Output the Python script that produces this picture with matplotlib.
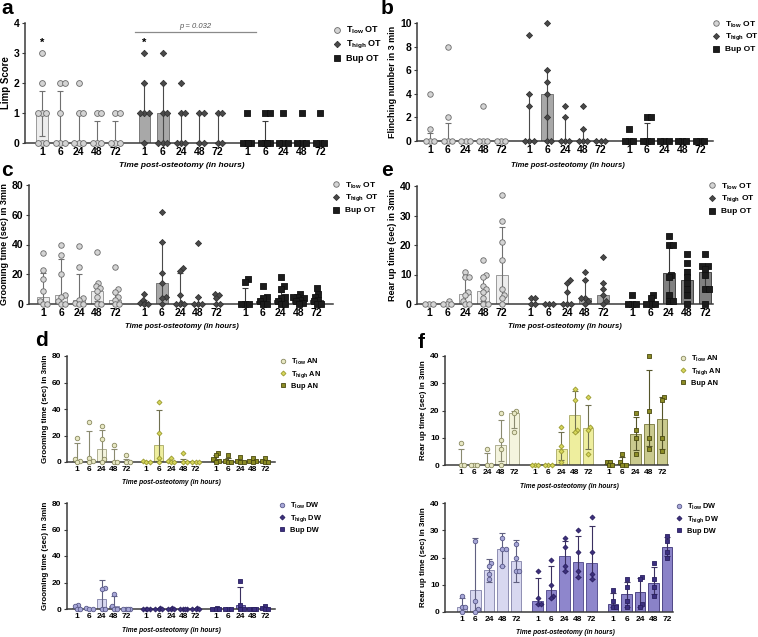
import numpy as np
import matplotlib.pyplot as plt
from matplotlib.lines import Line2D

plt.rcParams['font.family'] = ['Liberation Sans', 'DejaVu Sans']
plt.rcParams['font.weight'] = 'bold'
plt.rcParams['mathtext.fontset'] = 'custom'
plt.rcParams['mathtext.rm'] = 'Liberation Sans:bold'
plt.rcParams['mathtext.bf'] = 'Liberation Sans:bold'

W, H = 758, 637
times = ['1', '6', '24', '48', '72']
xlabel_text = 'Time post-osteotomy (in hours)'

# ---- panel a: limp score (OT)
a_pts = [
    [[3, 2, 1, 1, 1, 0, 0, 0], [2, 2, 1, 0, 0, 0], [2, 1, 1, 0, 0, 0], [1, 1, 0, 0, 0], [1, 1, 0, 0, 0]],
    [[3, 2, 1, 1, 1, 0], [3, 2, 1, 1, 0, 0, 0], [2, 1, 1, 0, 0, 0], [1, 1, 0, 0], [1, 1, 0, 0]],
    [[1, 0, 0, 0, 0], [1, 1, 0, 0, 0, 0], [1, 0, 0, 0], [1, 0, 0, 0], [1, 0, 0, 0]],
]
a_bar = [[1, 0, 0, 0, 0], [1, 1, 0, 0, 0], [0, 0, 0, 0, 0]]
a_lo = [[0.25, 0, 0, 0, 0], [1, 0, 0, 0, 0], [0, 0, 0, 0, 0]]
a_hi = [[1.75, 1.75, 1, 0.75, 0.75], [2, 2, 1, 1, 1], [0, 0.75, 0, 0, 0]]

# ---- panel b: flinching (OT)
b_pts = [
    [[4, 1, 0, 0, 0], [8, 2, 0, 0, 0], [0, 0, 0], [3, 0, 0, 0], [0, 0, 0]],
    [[9, 4, 3, 0, 0, 0], [10, 6, 5, 4, 2, 0, 0], [3, 2, 0, 0, 0], [3, 1, 0, 0, 0], [0, 0, 0]],
    [[1, 0, 0, 0], [2, 2, 0, 0, 0], [0, 0, 0], [0, 0, 0], [0, 0, 0]],
]
b_bar = [[0, 0, 0, 0, 0], [0, 4, 0, 0, 0], [0, 0, 0, 0, 0]]
b_lo = [[0, 0, 0, 0, 0], [0, 0, 0, 0, 0], [0, 0, 0, 0, 0]]
b_hi = [[0.7, 1.5, 0, 0, 0], [4, 6, 2, 1, 0], [0, 1.5, 0, 0, 0]]

# ---- panel c: grooming (OT)
c_pts = [
    [[34, 23, 17, 9, 2, 0, 0], [40, 33, 20, 6, 5, 2, 0, 0], [39, 25, 4, 3, 1, 0, 0],
     [35, 14, 12, 11, 9, 5, 0, 0], [25, 10, 8, 5, 3, 0, 0]],
    [[7, 3, 1, 1, 0, 0], [62, 42, 21, 14, 5, 4, 0], [24, 22, 6, 1, 0, 0, 0], [41, 5, 0, 0, 0], [7, 6, 4, 0, 0]],
    [[17, 15, 0, 0, 0], [12, 5, 4, 2, 0, 0], [18, 12, 10, 5, 4, 2, 0, 0],
     [7, 5, 5, 4, 3, 2, 1, 0], [11, 7, 5, 3, 2, 0, 0]],
]
c_bar = [[5, 6, 3, 9, 3], [1, 14, 1, 0, 0], [0, 2, 3, 4, 3]]
c_lo = [[0, 1, 0, 2, 0.5], [0, 4, 0, 0, 0], [0, 0, 0, 2, 0]]
c_hi = [[21, 30, 20, 13, 8], [3, 42, 21, 5, 6], [11, 5, 8, 5, 6]]

# ---- panel e: rear up (OT)
e_pts = [
    [[0, 0, 0], [1, 0, 0, 0], [11, 9, 9, 4, 3, 1, 0, 0], [15, 10, 9, 6, 5, 4, 2, 0, 0],
     [37, 28, 21, 15, 5, 3, 2, 0]],
    [[2, 2, 0, 0], [0, 0, 0], [8, 7, 4, 0, 0, 0], [11, 8, 2, 2, 1, 0], [16, 7, 5, 3, 1, 0]],
    [[3, 0, 0, 0], [3, 2, 0, 0, 0], [23, 20, 20, 10, 9, 3, 1, 1], [17, 14, 11, 9, 7, 5, 3, 0],
     [17, 13, 13, 12, 10, 5, 5, 0]],
]
e_bar = [[0, 0, 3.5, 4.5, 10], [0, 0, 0, 2, 3], [0, 0, 10.5, 8, 11]]
e_lo = [[0, 0, 0, 1, 2], [0, 0, 0, 0, 0.5], [0, 0, 1, 4, 5]]
e_hi = [[0, 0, 9, 9, 26], [0, 0, 7, 8, 7], [0, 1, 20, 12, 13]]

# ---- panel d (top): grooming (AN)
dA_pts = [
    [[18, 2, 1, 0], [30, 3, 1, 0], [27, 17, 2, 0], [13, 0, 0], [5, 0, 0]],
    [[1, 0, 0], [45, 22, 3, 0], [3, 1, 0, 0], [7, 0, 0], [0, 0, 0]],
    [[7, 5, 2, 1, 0], [5, 1, 0, 0], [4, 1, 0, 0], [3, 1, 1, 0], [3, 1, 0, 0]],
]
dA_bar = [[1, 1, 9.5, 0, 0], [0, 12.5, 0, 0, 0], [2, 1, 0.5, 1, 0.5]]
dA_lo = [[0, 0, 0.5, 0, 0], [0, 1, 0, 0, 0], [0, 0, 0, 0, 0]]
dA_hi = [[14, 23.5, 24, 10, 2], [0, 39, 0, 2, 0], [5, 3, 1.5, 1.5, 1.5]]

# ---- panel d (bottom): grooming (DW)
dD_pts = [
    [[3, 2, 0, 0], [1, 0, 0], [16, 15, 0, 0], [11, 2, 0, 0], [0, 0, 0, 0]],
    [[0, 0, 0, 0], [1, 0, 0, 0], [1, 0, 0, 0], [0, 0, 0, 0], [1, 0, 0, 0]],
    [[1, 0, 0, 0], [0, 0, 0], [21, 3, 0, 0], [0, 0, 0, 0], [2, 1, 0, 0]],
]
dD_bar = [[0.5, 0, 7.5, 2, 0], [0, 0, 0, 0, 0], [0, 0, 3, 0, 1]]
dD_lo = [[0, 0, 0, 0, 0], [0, 0, 0, 0, 0], [0, 0, 0, 0, 0]]
dD_hi = [[2.5, 0.5, 22, 10, 0], [0, 0, 0, 0, 0], [0.5, 0, 16.5, 0, 1.5]]

# ---- panel f (top): rear up (AN)
fA_pts = [
    [[8, 0, 0], [0, 0, 0], [6, 0, 0], [19, 9, 6, 0], [20, 19, 12]],
    [[0, 0, 0], [0, 0, 0], [14, 7, 5, 1], [28, 24, 13, 12], [25, 14, 13, 4]],
    [[1, 1, 0, 0], [4, 1, 0, 0], [19, 13, 10, 4], [40, 20, 10, 6], [25, 24, 10, 5]],
]
fA_bar = [[0, 0, 0, 7.5, 19], [0, 0, 6, 18.5, 13.5], [0.5, 0.5, 11.5, 15, 17]]
fA_lo = [[0, 0, 0, 1.5, 13.5], [0, 0, 2, 12, 6], [0, 0, 5.5, 7, 6]]
fA_hi = [[6, 0, 4.5, 16.5, 20], [0, 0, 12, 27, 22], [1, 3, 17.5, 35, 25]]

# ---- panel f (bottom): rear up (DW)
fD_pts = [
    [[6, 2, 2, 0], [26, 4, 1, 0], [18, 17, 14, 12], [27, 23, 23, 17], [25, 20, 15, 15]],
    [[15, 5, 3, 3], [19, 10, 6, 5], [27, 24, 17, 15], [30, 22, 15, 13], [35, 22, 14, 12]],
    [[8, 4, 2, 2], [12, 9, 4, 2], [13, 12, 3, 2], [18, 12, 9, 6], [28, 26, 22, 20]],
]
fD_bar = [[2, 8, 15.5, 23, 18.8], [4, 8, 20.5, 18.5, 18], [3, 6.5, 7.5, 10.5, 24]]
fD_lo = [[0.5, 0, 11, 17, 11], [3, 5, 15, 13, 12], [2, 2, 2, 6.5, 20.5]]
fD_hi = [[5, 27, 19.5, 29, 26.5], [12.5, 17, 26, 28, 31.5], [7, 11, 12.5, 16.5, 27.5]]

names_ot = [r'T$_{\mathrm{low}}$ OT', r'T$_{\mathrm{high}}$ OT', 'Bup OT']
names_an = [r'T$_{\mathrm{low}}$ AN', r'T$_{\mathrm{high}}$ AN', 'Bup AN']
names_dw = [r'T$_{\mathrm{low}}$ DW', r'T$_{\mathrm{high}}$ DW', 'Bup DW']

markers = ['o', 'D', 's']
# (marker face, marker edge, bar face, bar edge, error colour)
pal_ot = [('#d4d4d4', '#6a6a6a', '#ededed', '#8c8c8c', '#707070'),
          ('#4a4a4a', '#333333', '#a8a8a8', '#6a6a6a', '#4a4a4a'),
          ('#1c1c1c', '#111111', '#808080', '#333333', '#3a3a3a')]
pal_an = [('#e8e8c4', '#8a8a60', '#f4f4de', '#a4a484', '#8a8a70'),
          ('#d6d65a', '#9a9a30', '#eeee9e', '#a8a864', '#707050'),
          ('#8c8c26', '#4a4a10', '#caca8e', '#77773a', '#55552a')]
pal_dw = [('#a8a8d8', '#5a5a8a', '#d8d8f0', '#8080a8', '#606080'),
          ('#3c2f7c', '#2a2060', '#8e86cc', '#4c4488', '#3a3060'),
          ('#3c2f80', '#2a2060', '#8a82c8', '#3c3478', '#3a3060')]


def add_panel(l, t, r, b):
    return fig.add_axes([l / W, 1 - b / H, (r - l) / W, (b - t) / H])


def swarm_x(ax, xc, vals, diam, max_off):
    # beeswarm in pixel space, kept inside +-max_off of the tick
    step = diam * 0.25
    nk = max(int(max_off / step), 1)
    cands = [0]
    for j in range(1, nk + 1):
        cands += [j, -j]
    placed = []
    out = [None] * len(vals)
    for i in np.argsort(vals, kind='stable'):
        px, py = ax.transData.transform((xc, vals[i]))
        best, bestd = px, -1
        for k in cands:
            cx = px + k * step
            d = min([np.hypot(cx - qx, py - qy) for qx, qy in placed] or [1e9])
            if d >= 0.7 * diam:
                best = cx
                break
            if d > bestd + 0.3:
                best, bestd = cx, d
        placed.append((best, py))
        out[i] = ax.transData.inverted().transform((best, py))[0]
    return out


def draw(box, pts, bar, lo, hi, pal, names, ylim, yticks, ylabel, xlim, width,
         diam, fs, lab_fs, leg_xy, xl_xy, gap=5.6):
    ax = add_panel(*box)
    ax.set_xlim(*xlim)
    ax.set_ylim(*ylim)
    for s in ['top', 'right']:
        ax.spines[s].set_visible(False)
    for s in ['left', 'bottom']:
        ax.spines[s].set_linewidth(1.1)
        ax.spines[s].set_color('#3a3a3a')
    ax.set_yticks(yticks)
    unit_px = (box[2] - box[0]) / (xlim[1] - xlim[0])
    xt = []
    for g in range(3):
        fc, ec, bf, be, erc = pal[g]
        x = np.arange(5) + g * gap
        xt += list(x)
        ax.bar(x, bar[g], width=width, color=bf, edgecolor=be, linewidth=0.6, zorder=1)
        for i in range(5):
            if hi[g][i] > bar[g][i] or lo[g][i] < bar[g][i]:
                ax.errorbar(x[i], bar[g][i], yerr=[[bar[g][i] - lo[g][i]], [hi[g][i] - bar[g][i]]],
                            fmt='none', ecolor=erc, elinewidth=0.8, capsize=2.2, capthick=0.8, zorder=2)
        ms = (diam * 0.72) ** 2
        if markers[g] == 'D':
            ms *= 0.6
        elif markers[g] == 's':
            ms *= 0.85
        for i in range(5):
            xs = swarm_x(ax, x[i], pts[g][i], diam, 0.32 * unit_px)
            ax.scatter(xs, pts[g][i], s=ms, marker=markers[g], facecolor=fc, edgecolor=ec,
                       linewidths=0.6, zorder=3, clip_on=False)
    ax.set_xticks(xt)
    ax.set_xticklabels(times * 3)
    ax.tick_params(axis='x', length=0, labelsize=fs, pad=3)
    ax.tick_params(axis='y', length=2.5, width=0.8, labelsize=fs, pad=1.5, color='#3a3a3a')
    ax.set_ylabel(ylabel, fontsize=lab_fs, fontweight='bold', labelpad=2)
    fig.text(xl_xy[0] / W, 1 - xl_xy[1] / H, xlabel_text, fontsize=lab_fs - 1,
             style='italic', fontweight='bold', ha='center', va='center')
    handles = [Line2D([], [], ls='none', marker=markers[g], markersize=diam * 0.72 * (0.78 if g == 1 else 1),
                      markerfacecolor=pal[g][0], markeredgecolor=pal[g][1], markeredgewidth=0.6)
               for g in range(3)]
    fig.legend(handles, names, loc='upper left', bbox_to_anchor=(leg_xy[0] / W, 1 - leg_xy[1] / H),
               frameon=False, fontsize=lab_fs - 0.5, handlelength=1.0, handletextpad=0.6,
               labelspacing=0.3, borderpad=0, borderaxespad=0)
    return ax


fig = plt.figure(figsize=(W / 100, H / 100), dpi=100)

ax_a = draw((25, 23, 325, 143), a_pts, a_bar, a_lo, a_hi, pal_ot, names_ot, (0, 4), [0, 1, 2, 3, 4],
            'Limp Score', (-0.93, 15.47), 0.65, 5.8, 7.5, 7, (332, 25), (182, 166))
ax_a.text(0, 3.35, '*', ha='center', va='center', fontsize=8)
ax_a.text(5.6, 3.35, '*', ha='center', va='center', fontsize=8)
ax_a.plot([5.1, 11.7], [3.7, 3.7], color='#8a8a8a', lw=0.9, clip_on=False)
ax_a.text(8.4, 3.78, 'p = 0.032', ha='center', va='bottom', fontsize=5.5, style='italic',
          fontweight='normal', color='#555555')

draw((417, 23, 713, 141), b_pts, b_bar, b_lo, b_hi, pal_ot, names_ot, (0, 10), [0, 2, 4, 6, 8, 10],
     'Flinching number in 3 min', (-0.73, 15.93), 0.65, 5.5, 7.5, 6.5, (712, 19), (568, 166))

draw((29, 185, 333, 304), c_pts, c_bar, c_lo, c_hi, pal_ot, names_ot, (0, 80), [0, 20, 40, 60, 80],
     'Grooming time (sec) in 3min', (-0.78, 16.1), 0.7, 5.5, 7.5, 6.5, (332, 180), (182, 326))

draw((417, 186, 713, 304), e_pts, e_bar, e_lo, e_hi, pal_ot, names_ot, (0, 40), [0, 10, 20, 30, 40],
     'Rear up time (sec) in 3min', (-0.66, 15.64), 0.66, 5.5, 7.5, 6.5, (708, 181), (565, 326))

draw((67, 356, 275, 462), dA_pts, dA_bar, dA_lo, dA_hi, pal_an, names_an, (0, 80), [0, 20, 40, 60, 80],
     'Grooming time (sec) in 3min', (-0.8, 16.0), 0.76, 4.5, 6, 5.8, (279, 357), (171, 483))

draw((67, 503, 275, 609), dD_pts, dD_bar, dD_lo, dD_hi, pal_dw, names_dw, (0, 80), [0, 20, 40, 60, 80],
     'Grooming time (sec) in 3min', (-0.8, 16.0), 0.76, 4.5, 6, 5.8, (278, 501), (171, 630))

draw((445, 356, 668, 465), fA_pts, fA_bar, fA_lo, fA_hi, pal_an, names_an, (0, 40), [0, 10, 20, 30, 40],
     'Rear up time (sec) in 3min', (-1.2, 15.65), 0.8, 4.5, 6, 5.8, (679, 354), (569, 486))

draw((445, 503, 673, 612), fD_pts, fD_bar, fD_lo, fD_hi, pal_dw, names_dw, (0, 40), [0, 10, 20, 30, 40],
     'Rear up time (sec) in 3min', (-1.26, 15.64), 0.8, 4.5, 6, 5.8, (675, 502), (565, 633))

for letter, px, py in [('a', 1, 9), ('b', 381, 9), ('c', 1, 170), ('e', 381, 170),
                       ('d', 35, 340), ('f', 418, 342)]:
    fig.text(px / W, 1 - py / H, letter, fontsize=15, fontweight='bold', ha='left', va='center')

fig.savefig('out.png', dpi=100)
